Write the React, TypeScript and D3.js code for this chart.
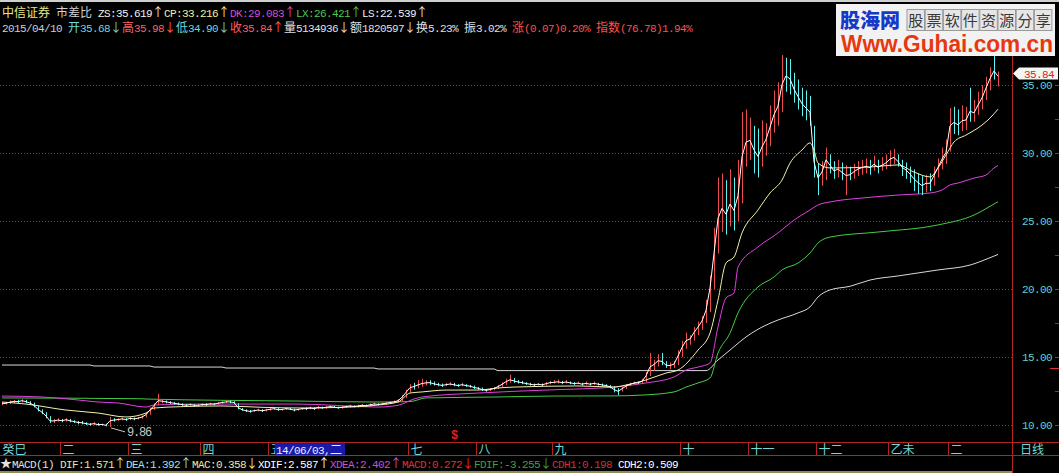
import React, { useEffect } from "react";
import * as d3 from "d3";

// ---------- data (daily bars) ----------
const opens = [
  11.5,11.55,11.6,11.7,11.8,11.7,11.8,11.7,11.6,11.35,
  11.1,10.9,10.6,10.2,10.3,10.35,10.3,10.4,10.3,10.25,
  10.2,10.15,10.1,10.05,10.1,10.0,10.05,9.95,10.4,10.35,
  10.4,10.45,10.4,10.5,10.45,10.5,10.6,10.8,11.2,11.5,
  11.7,11.75,11.7,11.65,11.6,11.55,11.5,11.45,11.5,11.4,
  11.45,11.55,11.5,11.6,11.55,11.6,11.65,11.75,11.7,11.6,
  11.2,11.1,11.05,11.0,11.05,11.1,11.05,11.1,11.15,11.2,
  11.1,11.15,11.2,11.15,11.1,11.15,11.25,11.2,11.25,11.2,
  11.3,11.25,11.3,11.35,11.3,11.25,11.3,11.35,11.4,11.35,
  11.4,11.45,11.4,11.5,11.55,11.5,11.55,11.6,11.65,11.7,
  11.8,12.1,12.5,12.9,12.8,12.9,13.0,13.15,13.1,13.0,
  12.95,12.9,12.95,13.0,12.95,12.9,12.95,12.9,12.85,12.75,
  12.7,12.6,12.55,12.6,12.7,12.85,13.0,13.2,13.3,13.2,
  13.15,13.1,13.05,13.0,12.95,13.0,12.95,13.05,13.05,13.1,
  13.15,13.1,13.15,13.1,13.0,13.05,13.0,13.05,13.0,13.05,
  13.0,12.95,12.9,12.8,12.6,12.5,12.7,12.9,13.0,13.15,
  13.1,13.2,13.7,14.1,14.5,14.7,14.5,14.35,14.4,14.5,
  15.2,15.8,16.3,16.4,16.9,17.3,17.8,18.5,20.5,23.0,
  25.0,25.8,25.0,26.0,25.3,26.5,29.8,30.5,31.5,30.2,
  29.5,30.2,31.0,31.8,32.6,33.3,36.0,36.2,35.3,34.6,
  34.0,33.5,33.1,31.8,28.6,28.0,28.2,29.8,29.0,28.6,
  28.8,28.5,28.7,28.3,28.6,28.8,28.9,29.0,28.9,29.1,
  28.9,29.0,29.2,29.5,29.6,29.3,29.0,28.8,28.5,28.2,
  27.9,27.6,27.8,27.7,28.4,29.0,29.5,30.1,32.3,32.1,
  31.9,32.2,34.0,32.6,32.8,33.4,34.0,34.8,36.6,35.68,
];
const highs = [
  11.7,11.7,11.8,11.85,11.85,11.9,11.85,11.75,11.65,11.4,
  11.15,10.95,10.65,10.45,10.5,10.45,10.5,10.45,10.35,10.3,
  10.3,10.2,10.15,10.2,10.15,10.1,10.1,10.6,10.5,10.5,
  10.55,10.5,10.6,10.55,10.6,10.7,10.9,11.3,11.6,12.3,
  11.9,11.8,11.75,11.7,11.65,11.6,11.55,11.6,11.55,11.55,
  11.6,11.6,11.65,11.6,11.7,11.75,11.8,11.8,11.75,11.6,
  11.25,11.15,11.1,11.15,11.2,11.15,11.2,11.25,11.3,11.25,
  11.2,11.3,11.25,11.2,11.2,11.3,11.3,11.35,11.3,11.4,
  11.35,11.4,11.45,11.4,11.35,11.4,11.45,11.5,11.45,11.5,
  11.55,11.5,11.6,11.65,11.6,11.65,11.7,11.75,11.8,11.9,
  12.2,12.6,13.0,13.1,13.3,13.4,13.3,13.3,13.2,13.1,
  13.05,13.1,13.15,13.1,13.0,13.1,13.0,12.95,12.9,12.8,
  12.75,12.65,12.7,12.8,12.95,13.15,13.4,13.7,13.45,13.3,
  13.25,13.15,13.1,13.05,13.1,13.05,13.15,13.25,13.3,13.35,
  13.25,13.3,13.2,13.15,13.2,13.1,13.2,13.1,13.2,13.1,
  13.05,13.0,12.95,12.85,12.7,12.8,13.0,13.1,13.2,13.2,
  13.4,13.9,15.3,14.8,15.2,15.3,14.7,14.6,14.7,15.5,
  16.2,16.8,16.6,17.2,17.6,18.0,19.2,21.0,24.5,28.2,
  28.5,28.0,28.8,28.2,29.5,33.0,33.2,32.6,32.0,31.8,
  32.4,32.2,33.5,34.6,35.2,37.2,37.0,36.9,35.9,35.4,
  34.8,34.6,34.2,32.0,29.2,29.4,30.4,29.9,29.4,29.5,
  29.3,29.1,29.0,29.2,29.4,29.5,29.6,29.5,29.8,29.5,
  29.7,29.9,30.2,30.3,29.9,29.5,29.3,29.0,28.8,28.5,
  28.3,28.4,28.5,29.0,29.6,30.4,31.0,33.3,33.4,33.2,
  33.5,33.4,34.8,33.9,34.5,35.0,35.6,36.3,37.2,35.98,
];
const lows = [
  11.45,11.5,11.55,11.6,11.6,11.65,11.6,11.5,11.3,11.0,
  10.8,10.5,10.15,10.15,10.25,10.2,10.25,10.2,10.15,10.05,
  10.05,10.0,9.95,10.0,9.95,9.95,9.9,9.86,10.25,10.3,
  10.35,10.3,10.35,10.35,10.4,10.45,10.55,10.75,11.1,11.45,
  11.6,11.6,11.55,11.5,11.45,11.4,11.35,11.4,11.35,11.35,
  11.4,11.4,11.45,11.45,11.5,11.55,11.6,11.6,11.55,11.15,
  11.05,10.95,10.9,10.95,11.0,10.95,11.0,11.05,11.1,11.05,
  11.05,11.1,11.1,11.0,11.05,11.1,11.1,11.15,11.1,11.15,
  11.2,11.2,11.25,11.25,11.2,11.2,11.25,11.3,11.3,11.3,
  11.35,11.35,11.35,11.45,11.45,11.45,11.5,11.55,11.6,11.65,
  11.75,12.0,12.4,12.6,12.7,12.8,12.9,12.95,12.9,12.85,
  12.8,12.85,12.9,12.85,12.8,12.85,12.8,12.75,12.65,12.6,
  12.5,12.45,12.5,12.55,12.65,12.8,12.95,13.1,13.1,13.05,
  13.0,12.95,12.9,12.85,12.9,12.85,12.9,13.0,13.05,13.05,
  13.0,13.05,13.0,12.95,13.0,12.9,12.95,12.9,12.95,12.9,
  12.85,12.8,12.7,12.4,12.2,12.45,12.65,12.85,12.95,13.0,
  13.05,13.15,13.6,14.0,14.3,14.4,14.2,14.1,14.2,14.4,
  15.0,15.6,15.9,16.2,16.6,17.0,17.5,18.3,20.0,22.6,
  24.2,24.0,24.6,24.3,25.0,26.3,29.0,29.5,28.5,28.2,
  29.0,29.8,30.5,31.5,32.0,33.0,34.5,34.3,33.7,33.2,
  32.7,32.4,32.0,28.2,26.9,27.6,28.0,28.5,28.1,28.2,
  28.0,26.9,28.0,28.1,28.3,28.4,28.5,28.4,28.7,28.5,
  28.7,28.8,29.0,29.2,29.0,28.3,28.1,27.8,27.2,27.0,
  26.9,27.1,27.2,27.6,28.2,28.8,29.2,30.1,31.4,31.3,
  31.6,31.7,32.3,32.3,32.8,33.2,33.9,34.6,35.4,34.9,
];
const closes = [
  11.55,11.6,11.7,11.75,11.7,11.8,11.7,11.6,11.4,11.1,
  10.9,10.6,10.2,10.3,10.35,10.3,10.4,10.3,10.25,10.2,
  10.15,10.1,10.05,10.1,10.0,10.05,9.95,10.4,10.35,10.4,
  10.45,10.4,10.5,10.45,10.5,10.6,10.8,11.2,11.5,11.7,
  11.75,11.7,11.65,11.6,11.55,11.5,11.45,11.5,11.45,11.45,
  11.5,11.5,11.55,11.55,11.6,11.65,11.7,11.7,11.65,11.2,
  11.1,11.05,11.0,11.05,11.1,11.05,11.1,11.15,11.2,11.1,
  11.15,11.2,11.15,11.1,11.15,11.2,11.2,11.25,11.2,11.3,
  11.25,11.3,11.35,11.3,11.25,11.3,11.35,11.4,11.35,11.4,
  11.45,11.4,11.5,11.55,11.5,11.55,11.6,11.65,11.7,11.8,
  12.1,12.5,12.8,12.8,12.9,13.0,13.1,13.1,13.0,12.95,
  12.9,12.95,13.0,12.95,12.9,12.95,12.9,12.85,12.75,12.7,
  12.6,12.55,12.6,12.7,12.85,13.0,13.2,13.25,13.2,13.15,
  13.1,13.05,13.0,12.95,13.0,12.95,13.05,13.1,13.1,13.15,
  13.1,13.15,13.1,13.05,13.05,13.0,13.05,13.0,13.05,13.0,
  12.95,12.9,12.8,12.6,12.5,12.7,12.9,13.0,13.1,13.1,
  13.2,13.7,14.1,14.5,14.7,14.5,14.35,14.4,14.5,15.2,
  15.8,16.2,16.4,16.9,17.3,17.8,18.5,20.5,23.0,25.0,
  25.5,25.0,25.8,25.3,26.5,29.8,30.5,30.8,30.2,29.5,
  30.2,31.0,31.8,32.6,33.3,35.0,35.6,35.3,34.6,34.0,
  33.5,33.1,32.9,28.6,28.3,28.7,29.8,29.0,28.6,28.8,
  28.5,28.7,28.3,28.6,28.8,28.9,29.0,28.9,29.1,28.9,
  29.0,29.2,29.5,29.6,29.3,29.0,28.8,28.5,28.2,27.9,
  27.6,27.8,27.7,28.4,29.0,29.5,30.0,32.3,32.1,31.9,
  32.2,32.3,32.6,32.8,33.4,34.0,34.8,35.5,35.77,35.84,
];

// indicator lines: [bar index, value]
const cpPts: [number, number][] = [
  [0,11.69],[6,11.54],[16,11.1],[24,10.88],[31,10.59],[36,10.88],[38,11.25],[45,11.35],[55,11.4],
  [65,11.3],[75,11.25],[85,11.3],[94,11.47],[99,11.69],[102,12.35],[105,12.43],[111,12.57],[119,12.57],
  [124,12.72],[128,12.79],[144,12.87],[153,12.79],[156,12.94],[161,13.31],[166,13.82],[169,14.04],
  [174,15.51],[177,16.76],[179,19.19],[181,21.91],[183,22.35],[185,24.12],[189,25.81],[192,27.06],
  [195,28.01],[197,29.26],[200,30.22],[202,30.74],[203,30.22],[204,29.26],[207,28.9],[217,28.97],
  [224,29.12],[228,28.6],[232,28.24],[234,28.9],[236,29.85],[238,30.81],[241,31.32],[244,31.84],
  [247,32.57],[249,33.22],
];
const dkPts: [number, number][] = [
  [0,12.13],[10,12.06],[19,11.84],[24,11.69],[29,11.62],[36,11.32],[38,11.47],[49,11.54],[74,11.54],
  [94,11.32],[99,11.45],[103,11.91],[105,12.06],[119,12.35],[136,12.57],[153,12.79],[161,13.09],
  [168,13.53],[171,14.04],[174,14.26],[177,14.56],[179,17.21],[181,19.34],[183,19.71],[184,21.62],
  [189,23.09],[194,24.12],[198,25.07],[202,25.81],[204,26.18],[207,26.4],[215,26.69],[224,26.91],
  [232,27.06],[235,27.28],[237,27.65],[239,27.79],[243,28.16],[246,28.38],[248,28.9],[249,29.08],
];
const lxPts: [number, number][] = [
  [0,11.99],[35,11.93],[36,11.91],[74,11.76],[94,11.69],[102,11.72],[106,11.99],[124,12.06],
  [138,12.13],[153,12.14],[160,12.2],[168,12.43],[171,12.79],[174,13.09],[177,13.46],[179,15.29],
  [182,16.76],[184,18.24],[189,20.15],[193,20.88],[195,21.4],[199,21.91],[202,22.65],[204,23.38],
  [207,23.82],[219,24.19],[234,24.71],[243,25.44],[248,26.25],[249,26.42],
];
const lsPts: [number, number][] = [
  [0,14.41],[22,14.41],[23,14.34],[37,14.34],[38,14.26],[55,14.26],[56,14.19],[93,14.19],[94,14.12],
  [123,14.12],[124,14.0],[176,14.0],[179,14.78],[182,15.51],[186,16.47],[190,17.2],[194,17.72],
  [199,18.24],[202,18.68],[204,19.41],[207,19.93],[212,20.2],[217,20.66],[224,20.96],[234,21.4],
  [242,21.76],[247,22.3],[249,22.54],
];

const priceTicks = [10, 15, 20, 25, 30, 35];
const monthLabels = ["癸巳", "二", "三", "四", "五", "七", "八", "九", "十", "十一", "十二", "乙未", "二"];
const monthStarts = [0, 15, 32, 50, 67, 102, 119, 138, 170, 187, 204, 222, 237];
const cursorLabel = "14/06/03,二";
const lastClose = 35.84;
const lowLabel = "9.86";
const signalIndex = 113;

type Seg = { t: string; c: string };
const header1: Seg[] = [
  { t: "中信证券", c: "#e6e68c" }, { t: " ", c: "#fff" }, { t: "市差比", c: "#d0d0d0" }, { t: " ", c: "#fff" },
  { t: "ZS:35.619↑", c: "#f0f0f0" }, { t: "CP:33.216↑", c: "#f0f0a0" }, { t: "DK:29.083↑", c: "#d050d0" },
  { t: "LX:26.421↑", c: "#50c850" }, { t: "LS:22.539↑", c: "#f0f0f0" },
];
const header2: Seg[] = [
  { t: "2015/04/10 ", c: "#c8d0d8" }, { t: "开35.68↓", c: "#70d8d8" }, { t: "高35.98↓", c: "#ff6060" },
  { t: "低34.90↓", c: "#70d8d8" }, { t: "收35.84↑", c: "#ff6060" }, { t: "量5134936↓", c: "#e0e0e0" },
  { t: "额1820597↓", c: "#e0e0e0" }, { t: "换5.23% ", c: "#e0e0e0" }, { t: "振3.02% ", c: "#e0e0e0" },
  { t: "涨(0.07)0.20% ", c: "#ff5050" }, { t: "指数(76.78)1.94%", c: "#ff5050" },
];
const macdRow: Seg[] = [
  { t: "★", c: "#e0e0e0" }, { t: "MACD(1) ", c: "#e0e0e0" }, { t: "DIF:1.571↑", c: "#e8e8a0" },
  { t: "DEA:1.392↑", c: "#a0e0e8" }, { t: "MAC:0.358↓", c: "#e8e8a0" }, { t: "XDIF:2.587↑", c: "#ffffff" },
  { t: "XDEA:2.402↑", c: "#d050d0" }, { t: "MACD:0.272↓", c: "#e03030" }, { t: "FDIF:-3.255↓", c: "#40a040" },
  { t: "CDH1:0.198 ", c: "#d03030" }, { t: "CDH2:0.509", c: "#ffffff" },
];
const logoTitle = "股海网";
const logoChars = "股票软件资源分享";
const logoUrl = "Www.Guhai.com.cn";

// ---------- layout ----------
const W = 1059, H = 473;
const PLOT_R = 1012;
const MONO = "'Liberation Mono', 'DejaVu Sans Mono', monospace";
const CJK = "'Noto Sans CJK SC', 'Noto Sans', sans-serif";
const RED_LINE = "#b02424";
const UP = "#ea4e4e", DOWN = "#5cf4f4";

const isWide = (ch: string) => (ch.codePointAt(0) || 0) > 0x2000;

function TextRow({ x, y, segs, ascii = 11 }: { x: number; y: number; segs: Seg[]; ascii?: number }) {
  const spans: React.ReactNode[] = [];
  let cx = x;
  let k = 0;
  for (const s of segs) {
    const chars = Array.from(s.t);
    let i = 0;
    while (i < chars.length) {
      const w = isWide(chars[i]);
      const xs: number[] = [];
      let txt = "";
      while (i < chars.length && isWide(chars[i]) === w) {
        xs.push(cx);
        txt += chars[i];
        cx += w ? 12 : 6;
        i++;
      }
      spans.push(
        <tspan key={k++} x={xs.join(" ")} fill={s.c} fontFamily={w ? CJK : MONO} fontSize={w ? 12 : ascii}>
          {txt}
        </tspan>
      );
    }
  }
  return <text y={y} style={{ whiteSpace: "pre" }}>{spans}</text>;
}

export default function App() {
  useEffect(() => {
    document.body.style.margin = "0";
    document.body.style.background = "#000";
  }, []);

  const N = closes.length;
  const x = d3.scaleLinear().domain([0, N - 1]).range([2, 2 + 4 * (N - 1)]);
  const y = d3.scaleLinear().domain([10, 35]).range([425, 85]);

  const bars = closes.map((c, i) => ({ i, o: opens[i], h: highs[i], l: lows[i], c }));
  const zs = bars.map((b) => (b.h + b.l + 2 * b.c) / 4);

  const ptLine = d3
    .line<[number, number]>()
    .x((d) => x(d[0]))
    .y((d) => y(d[1]))
    .curve(d3.curveMonotoneX);
  const zsLine = d3
    .line<number>()
    .x((_, i) => x(i))
    .y((d) => y(d));

  const lowIdx = d3.minIndex(lows);
  const lowX = x(lowIdx);
  const lowY = y(lows[lowIdx]);

  const px = (i: number) => Math.round(x(i)) + 0.5;
  const cursorX = 275;

  return (
    <svg width={W} height={H} style={{ display: "block", position: "absolute", left: 0, top: 0, background: "#000" }}>
      <defs>
        <clipPath id="cursorClip">
          <rect x={0} y={440} width={cursorX} height={18} />
        </clipPath>
      </defs>
      <rect x={0} y={0} width={W} height={H} fill="#000" />
      <rect x={0} y={0} width={W} height={2} fill="#cfcfcf" />

      {/* grid lines */}
      {priceTicks.map((t) => (
        <line key={t} x1={0} x2={PLOT_R} y1={Math.round(y(t)) + 0.5} y2={Math.round(y(t)) + 0.5}
          stroke="#a82a2a" strokeDasharray="1 2" />
      ))}

      {/* long lines */}
      <path d={ptLine(lsPts) || ""} fill="none" stroke="#d8d8d8" strokeWidth={1} />
      <path d={ptLine(lxPts) || ""} fill="none" stroke="#44cc44" strokeWidth={1} />
      <path d={ptLine(dkPts) || ""} fill="none" stroke="#e040e0" strokeWidth={1} />

      {/* candles */}
      {bars.map((b) => {
        const col = b.c >= b.o ? UP : DOWN;
        const xx = px(b.i);
        return <line key={b.i} x1={xx} x2={xx} y1={y(b.h)} y2={y(b.l)} stroke={col} strokeWidth={1} />;
      })}

      <path d={ptLine(cpPts) || ""} fill="none" stroke="#f2f2a8" strokeWidth={1} />
      <path d={zsLine(zs) || ""} fill="none" stroke="#ffffff" strokeWidth={1} />

      {/* low marker */}
      <line x1={lowX + 1} y1={lowY + 1} x2={lowX + 15} y2={lowY + 5} stroke="#c8c8c8" />
      <TextRow x={lowX + 17} y={lowY + 9} segs={[{ t: lowLabel, c: "#c8c8c8" }]} ascii={12} />

      {/* signal marker */}
      <text x={x(signalIndex) - 3} y={439} fill="#e02020" fontFamily={MONO} fontSize={12} fontWeight="bold">$</text>

      {/* header */}
      <TextRow x={2} y={17} segs={header1} />
      <TextRow x={2} y={32} segs={header2} />

      {/* right axis */}
      <line x1={PLOT_R + 0.5} x2={PLOT_R + 0.5} y1={56} y2={H} stroke={RED_LINE} />
      {priceTicks.map((t) => (
        <TextRow key={t} x={1022} y={y(t) + 4} segs={[{ t: t.toFixed(2), c: "#60d0d0" }]} />
      ))}
      {d3.range(10, 37.5, 2.5).map((t) => (
        <line key={"tk" + t} x1={1055} x2={W} y1={Math.round(y(t)) + 0.5} y2={Math.round(y(t)) + 0.5} stroke={RED_LINE} />
      ))}
      <line x1={1050} x2={W} y1={368.5} y2={368.5} stroke="#e03030" />
      <polygon
        points={`${PLOT_R + 1},${y(lastClose)} ${PLOT_R + 7},${y(lastClose) - 6} ${W - 1},${y(lastClose) - 6} ${W - 1},${y(lastClose) + 6} ${PLOT_R + 7},${y(lastClose) + 6}`}
        fill="#f4f4f4"
      />
      <TextRow x={1024} y={y(lastClose) + 4} segs={[{ t: lastClose.toFixed(2), c: "#e02020" }]} />

      {/* time axis */}
      <line x1={0} x2={W} y1={442.5} y2={442.5} stroke={RED_LINE} />
      <line x1={0} x2={W} y1={455.5} y2={455.5} stroke={RED_LINE} />
      {monthStarts.map((m, k) => {
        const sx = Math.round(x(m)) - 2 + 0.5;
        const hidden = sx + 2 < cursorX && sx + 26 > cursorX;
        return (
          <g key={"m" + k}>
            {k > 0 && <line x1={sx} x2={sx} y1={442} y2={456} stroke={RED_LINE} />}
            <text x={sx + 2} y={454} fill="#70d8d8" fontFamily={CJK} fontSize={12}
              clipPath={hidden ? "url(#cursorClip)" : undefined}>{monthLabels[k]}</text>
          </g>
        );
      })}
      <rect x={cursorX} y={443} width={70} height={12} fill="#1a1aa8" />
      <TextRow x={cursorX + 1} y={453.5} segs={[{ t: cursorLabel, c: "#e8f0ff" }]} />
      <text x={1020} y={454} fill="#70d8d8" fontFamily={CJK} fontSize={12}>日线</text>

      {/* MACD info row */}
      <TextRow x={0} y={468} segs={macdRow} />
      <rect x={0} y={471} width={PLOT_R} height={2} fill="#8f8a5c" />

      {/* logo */}
      <rect x={836} y={4} width={219} height={52} fill="#f2f2f2" />
      <text x={840} y={28} fill="#1838c8" fontFamily={CJK} fontSize={20} fontWeight={900}>{logoTitle}</text>
      {Array.from(logoChars).map((ch, k) => (
        <g key={"lc" + k}>
          <rect x={907 + k * 18.2} y={9.5} width={17.5} height={21} fill="#e6e6e6" stroke="#9a9a9a" />
          <text x={907 + k * 18.2 + 8.75} y={26} textAnchor="middle" fill="#383838" fontFamily={CJK} fontSize={15}>{ch}</text>
        </g>
      ))}
      <text x={841} y={52} fill="#e8380f" fontFamily="'Liberation Sans', Arial, sans-serif" fontWeight="bold"
        fontSize={23} textLength={212} lengthAdjust="spacingAndGlyphs">{logoUrl}</text>
    </svg>
  );
}
